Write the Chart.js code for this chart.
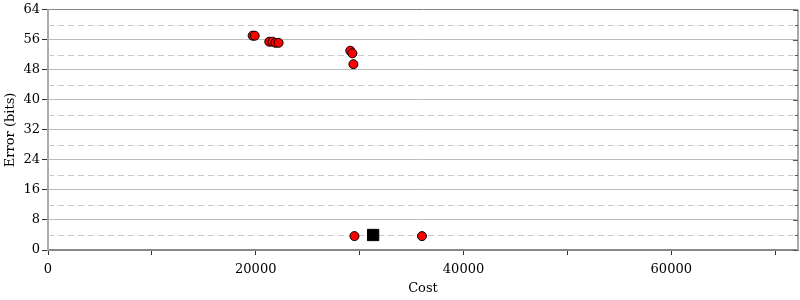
<!DOCTYPE html>
<html>
<head>
<meta charset="utf-8">
<script src="https://cdn.jsdelivr.net/npm/chart.js@4/dist/chart.umd.min.js"></script>
<style>
  html, body { margin: 0; padding: 0; background: #fff; }
  #wrap { width: 800px; height: 300px; }
</style>
</head>
<body>
<div id="wrap"><canvas id="myChart"></canvas></div>
<script>
// candidate points (cost, error bits)
const costs = [19700, 19900, 21300, 21600, 21900, 22200, 29100, 29300, 29400, 29500, 36000];
const errors = [57.1, 57.1, 55.5, 55.5, 55.2, 55.2, 53.1, 52.4, 49.5, 3.7, 3.7];
// chosen point
const bestCost = [31300];
const bestError = [4.0];

const xTicks = [0, 10000, 20000, 30000, 40000, 50000, 60000, 70000];
const minorY = [4, 12, 20, 28, 36, 44, 52, 60];

const pts = costs.map((c, i) => ({ x: c, y: errors[i] }));
const best = bestCost.map((c, i) => ({ x: c, y: bestError[i] }));

Chart.defaults.font.family = "'DejaVu Serif', serif";
Chart.defaults.font.size = 13;
Chart.defaults.color = "#000";

// dashed minor grid + right axis with ticks
const frame = {
  id: "frame",
  beforeDatasetsDraw(chart) {
    const { ctx, chartArea: a, scales: { y } } = chart;
    ctx.save();
    ctx.strokeStyle = "#c8c8c8";
    ctx.lineWidth = 1;
    ctx.setLineDash([6, 4]);
    minorY.forEach((v) => {
      const py = Math.round(y.getPixelForValue(v)) + 0.5;
      ctx.beginPath();
      ctx.moveTo(a.left, py);
      ctx.lineTo(a.right, py);
      ctx.stroke();
    });
    ctx.setLineDash([]);
    ctx.strokeStyle = "#aaa";
    ctx.lineWidth = 2;
    ctx.beginPath();
    ctx.moveTo(a.right, a.top);
    ctx.lineTo(a.right, a.bottom);
    ctx.stroke();
    ctx.strokeStyle = "#555";
    ctx.lineWidth = 1;
    y.ticks.forEach((t) => {
      const py = Math.round(y.getPixelForValue(t.value)) + 0.5;
      ctx.beginPath();
      ctx.moveTo(a.right - 5, py);
      ctx.lineTo(a.right, py);
      ctx.stroke();
    });
    minorY.forEach((v) => {
      const py = Math.round(y.getPixelForValue(v)) + 0.5;
      ctx.beginPath();
      ctx.moveTo(a.right - 3, py);
      ctx.lineTo(a.right, py);
      ctx.stroke();
    });
    ctx.restore();
  },
};

const config = {
  type: "scatter",
  data: {
    datasets: [
      {
        data: pts,
        backgroundColor: "#ff0000",
        borderColor: "#000",
        borderWidth: 1,
        pointRadius: 4.5,
        pointHoverRadius: 4.5,
        order: 2,
      },
      {
        data: best,
        pointStyle: "rect",
        backgroundColor: "#000",
        borderColor: "#000",
        borderWidth: 1,
        pointRadius: 8,
        pointHoverRadius: 8,
        order: 1,
      },
    ],
  },
  options: {
    animation: false,
    responsive: true,
    maintainAspectRatio: false,
    layout: { autoPadding: false, padding: { top: 8, right: 2, left: 3, bottom: 0 } },
    plugins: { legend: { display: false }, tooltip: { enabled: false } },
    scales: {
      x: {
        type: "linear",
        min: 0,
        max: 72200,
        afterBuildTicks: (s) => { s.ticks = xTicks.map((v) => ({ value: v })); },
        afterFit: (s) => { s.height = 50; s.paddingRight = 0; s.paddingLeft = 0; },
        ticks: {
          autoSkip: false,
          maxRotation: 0,
          padding: 7,
          callback: (v) => (v % 20000 === 0 ? String(v) : ""),
        },
        grid: {
          drawOnChartArea: false,
          tickLength: 5,
          tickColor: "#333",
        },
        border: { color: "#888", width: 2 },
        title: { display: true, text: "Cost", padding: { top: 8 } },
      },
      y: {
        min: 0,
        max: 64,
        afterFit: (s) => { s.width = 45; },
        ticks: { stepSize: 8, padding: 2 },
        grid: {
          color: (c) => (c.tick && (c.tick.value === 64 || c.tick.value === 0) ? "#888" : "#bbb"),
          tickLength: 6,
          tickColor: "#333",
        },
        border: { color: "#aaa", width: 2 },
        title: { display: true, text: "Error (bits)", padding: 0 },
      },
    },
  },
  plugins: [frame],
};

const myChart = new Chart(document.getElementById("myChart"), config);
</script>
</body>
</html>
